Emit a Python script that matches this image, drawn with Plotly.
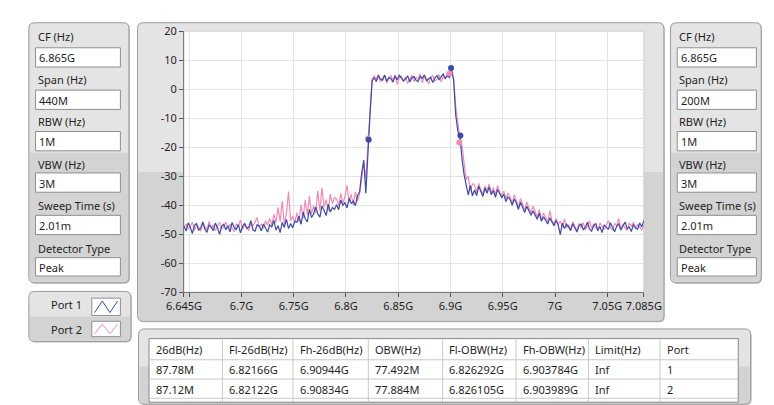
import plotly.graph_objects as go

W, H = 774, 405

# ---------------- data ----------------
freq_ghz = [round(6.645 + 0.002 * k, 3) for k in range(221)]  # analyzer bins across the 440M span

port1_dbm = [
    -47.2, -48.9, -46.1, -47.6, -49.8, -47.0, -46.4, -48.7, -47.9, -45.8, -48.3, -49.4, -46.9, -47.5, -48.8, -46.2,
    -47.7, -50.1, -47.3, -46.6, -48.5, -47.1, -49.2, -46.0, -47.8, -48.4, -46.7, -49.6, -47.4, -46.3, -48.0, -47.6,
    -45.4, -48.6, -49.0, -46.8, -47.3, -48.9, -46.5, -47.9, -49.3,
    -46.8, -47.5, -45.3, -48.6, -47.1, -49.5, -46.0, -47.7, -44.9, -48.1, -46.4, -47.8, -45.6,
    -45.9, -43.8, -46.6, -42.4, -44.7, -45.8, -41.5, -44.3,
    -43.1, -40.6, -42.9, -44.2, -40.3, -41.8, -43.6, -39.7, -42.4, -40.8, -41.5,
    -39.9, -41.6, -38.3, -40.1, -39.2, -41.0, -37.6, -39.5, -38.6, -40.2, -36.8,
    -35.5, -29.0, -24.5, -35.9, -19.5, -8.5, 2.8,
    3.9, 2.6, 4.7, 3.4, 3.1, 4.8, 2.7, 4.0, 3.6, 2.4, 4.5, 3.2, 4.9, 3.8, 2.8, 3.5, 4.6, 2.5, 3.9, 4.3,
    3.0, 2.6, 4.4, 3.7, 4.9, 2.9, 3.4, 4.1, 2.3, 3.8, 4.7, 3.3, 4.2, 5.2, 3.6, 4.6, 4.0, 7.0,
    3.0, -9.0, -14.5, -16.2, -24.0, -29.5, -33.0, -36.5, -33.2, -36.8,
    -34.8, -36.7, -33.5, -35.2, -37.0, -34.1, -35.9, -33.7, -36.4, -35.0, -37.3, -34.6, -35.8, -37.4,
    -36.3, -38.8, -37.2, -38.0, -40.1, -37.9, -39.3, -41.5, -39.0, -40.7, -42.6, -40.4, -41.9, -43.5, -42.0,
    -43.3, -44.9, -42.8, -45.6, -44.0, -45.1, -46.5, -44.4, -46.0, -47.1, -45.3, -46.8, -50.2, -46.2, -48.1, -46.6,
    -47.5, -48.8, -46.4, -47.9, -49.3, -47.0, -46.6, -48.5, -47.7, -45.9, -48.2, -49.0, -47.1, -46.3, -48.7, -47.4,
    -49.5, -46.8, -47.6, -48.4, -46.1, -47.8, -49.2, -47.3, -46.5, -48.6, -47.0, -45.8, -48.1, -47.6, -49.1, -46.7,
    -47.9, -48.3, -46.2, -47.5, -45.3,
]

port2_dbm = [
    -47.8, -46.5, -48.2, -47.3, -45.9, -48.7, -46.9, -47.6, -49.0, -46.2, -47.4, -48.5, -45.6, -47.9, -46.8, -48.9,
    -47.1, -46.0, -48.3, -47.5, -45.8, -48.0, -46.6, -47.7, -49.2, -46.4, -47.3, -45.1, -48.4, -46.9, -47.6, -48.8,
    -46.1, -47.2, -45.5, -44.3, -47.8, -46.5, -48.1, -45.4, -47.0,
    -44.6, -46.9, -43.2, -46.1, -40.8, -45.7, -38.6, -46.8, -42.9, -35.3, -45.4, -43.8, -46.0,
    -42.7, -45.9, -39.8, -44.6, -38.2, -43.5, -36.9, -43.0,
    -40.3, -42.8, -35.1, -41.9, -34.0, -40.6, -38.1, -42.1, -36.2, -39.5, -37.4,
    -37.9, -40.2, -36.0, -39.4, -37.0, -33.2, -38.9, -36.3, -40.0, -35.4, -38.7,
    -36.2, -31.5, -25.4, -30.8, -18.2, -6.5, 3.6,
    4.5, 3.2, 5.1, 2.4, 4.0, 4.8, 2.1, 3.7, 4.6, 2.9, 5.0, 1.6, 3.9, 4.4, 2.7, 4.2, 1.9, 3.5, 4.9, 2.6,
    4.1, 3.3, 5.2, 2.2, 4.5, 3.6, 1.8, 4.0, 4.7, 2.8, 3.4, 5.0, 2.5, 4.3, 3.8, 5.4, 4.6, 5.6,
    3.5, -6.0, -12.5, -17.0, -19.5, -24.8, -31.2, -30.0, -35.2, -32.6,
    -33.1, -35.6, -32.5, -34.8, -36.1, -33.4, -35.0, -32.7, -35.9, -33.9, -36.3, -33.2, -35.5, -36.6,
    -35.2, -37.9, -35.8, -37.2, -39.4, -36.4, -38.5, -40.6, -37.7, -39.9, -41.8, -39.0, -41.2, -42.7, -40.4,
    -42.2, -44.1, -41.6, -45.0, -42.7, -44.4, -45.8, -41.9, -45.3, -46.4, -44.6, -46.9, -45.5, -47.6, -44.8, -47.9,
    -46.8, -48.3, -45.7, -47.4, -48.9, -46.3, -47.8, -46.0, -48.6, -47.2, -45.5, -48.0, -46.6, -47.7, -49.0, -46.1,
    -47.5, -48.4, -46.9, -45.3, -47.9, -48.5, -46.4, -47.1, -44.6, -48.2, -46.7, -47.6, -48.8, -46.2, -47.3, -45.9,
    -48.1, -46.8, -47.5, -48.6, -46.9,
]

port1_marker_f = [6.82166, 6.9005, 6.90944]
port1_marker_db = [-17.5, 7.3, -16.0]
port2_marker_f = [6.82122, 6.8990, 6.90834]
port2_marker_db = [-17.0, 5.4, -18.4]

x_tickvals = [6.645, 6.65, 6.7, 6.75, 6.8, 6.85, 6.9, 6.95, 7.0, 7.05, 7.085]
x_ticktext = ["6.645G", "", "6.7G", "6.75G", "6.8G", "6.85G", "6.9G", "6.95G", "7G", "7.05G", "7.085G"]
y_tickvals = [20, 10, 0, -10, -20, -30, -40, -50, -60, -70]
y_ticktext = ["20", "10", "0", "-10", "-20", "-30", "-40", "-50", "-60", "-70"]

left_fields = [("CF (Hz)", "6.865G"), ("Span (Hz)", "440M"), ("RBW (Hz)", "1M"),
               ("VBW (Hz)", "3M"), ("Sweep Time (s)", "2.01m"), ("Detector Type", "Peak")]
right_fields = [("CF (Hz)", "6.865G"), ("Span (Hz)", "200M"), ("RBW (Hz)", "1M"),
                ("VBW (Hz)", "3M"), ("Sweep Time (s)", "2.01m"), ("Detector Type", "Peak")]

table_header = ["26dB(Hz)", "Fl-26dB(Hz)", "Fh-26dB(Hz)", "OBW(Hz)", "Fl-OBW(Hz)", "Fh-OBW(Hz)", "Limit(Hz)", "Port"]
table_rows = [
    ["87.78M", "6.82166G", "6.90944G", "77.492M", "6.826292G", "6.903784G", "Inf", "1"],
    ["87.12M", "6.82122G", "6.90834G", "77.884M", "6.826105G", "6.903989G", "Inf", "2"],
]

BLUE = "#3a4aa6"
PINK = "#f08bb6"
FONT = "Noto Sans"
FS = 11
TXT = "#1e1e1e"
LIGHT = "#e4e4e4"
DARK = "#d3d3d3"
EDGE = "#9a9a9a"

# ---------------- helpers (pixel -> paper) ----------------
def PX(x):
    return x / W


def PY(y):
    return 1 - y / H


def rpath(x0, y0, x1, y1, r=5, top=True, bottom=True):
    rt = r if top else 0
    rb = r if bottom else 0
    def p(x, y):
        return f"{PX(x):.5f},{PY(y):.5f}"
    s = f"M{p(x0 + rt, y0)} L{p(x1 - rt, y0)} "
    s += f"Q{p(x1, y0)} {p(x1, y0 + rt)} " if rt else ""
    s += f"L{p(x1, y1 - rb)} "
    s += f"Q{p(x1, y1)} {p(x1 - rb, y1)} " if rb else ""
    s += f"L{p(x0 + rb, y1)} "
    s += f"Q{p(x0, y1)} {p(x0, y1 - rb)} " if rb else ""
    s += f"L{p(x0, y0 + rt)} "
    s += f"Q{p(x0, y0)} {p(x0 + rt, y0)} " if rt else ""
    return s + "Z"


shapes = []
annotations = []


def add_path(path, fill="rgba(0,0,0,0)", line=None, width=1):
    shapes.append(dict(type="path", path=path, xref="paper", yref="paper", layer="below",
                       fillcolor=fill, line=dict(color=line or "rgba(0,0,0,0)", width=width if line else 0)))


def add_rect(x0, y0, x1, y1, fill, line=None, width=1, layer="below"):
    shapes.append(dict(type="rect", xref="paper", yref="paper", layer=layer,
                       x0=PX(x0), x1=PX(x1), y0=PY(y1), y1=PY(y0), fillcolor=fill,
                       line=dict(color=line or "rgba(0,0,0,0)", width=width if line else 0)))


def add_line(x0, y0, x1, y1, color, width=1, layer="below"):
    shapes.append(dict(type="line", xref="paper", yref="paper", layer=layer,
                       x0=PX(x0), x1=PX(x1), y0=PY(y0), y1=PY(y1), line=dict(color=color, width=width)))


def panel(x0, y0, x1, y1, split):
    add_path(rpath(x0 + 1, y0 + 1, x1 + 1, y1 + 1, 6), fill="#bdbdbd")  # soft shadow
    add_path(rpath(x0, y0, x1, y1, 6), fill=LIGHT)
    add_path(rpath(x0 + 1, split, x1 - 1, y1 - 1, 5, top=False), fill=DARK)
    add_path(rpath(x0, y0, x1, y1, 6), line=EDGE, width=1)


def text(x, y, s, size=FS, anchor="left"):
    annotations.append(dict(x=PX(x), y=PY(y), xref="paper", yref="paper", text=s, showarrow=False,
                            xanchor=anchor, yanchor="middle", font=dict(family=FONT, size=size, color=TXT)))


# ---------------- panels ----------------
def param_panel(x0, x1, fields, bx0, bx1):
    panel(x0, 7, x1, 277, 142)
    label_y = [21, 66, 110, 154, 197, 241]
    box_y = [(33, 53), (77, 97), (120, 140), (163, 183), (207, 227), (251, 270)]
    for (lab, val), ly, (by0, by1) in zip(fields, label_y, box_y):
        text(bx0, ly, lab)
        add_rect(bx0, by0, bx1, by1, "white", line="#8f8f8f")
        text(bx0 + 2, (by0 + by1) / 2 + 0.5, val)


param_panel(3, 108, left_fields, 10, 99)
param_panel(676, 771, right_fields, 683, 766)

# chart frame
panel(117, 7, 669, 317, 162)
PL, PR, PT, PB = 165.7, 648.0, 15.7, 286.7
add_rect(PL, PT, PR, PB, "white", line="#cfcfcf")

# legend panel
panel(3, 286, 110, 338, 312)
text(24, 300, "Port 1")
text(24, 326, "Port 2")
for (y0, y1), col in [((293, 311), BLUE), ((317, 333), PINK)]:
    add_rect(69, y0, 99, y1, "white", line="#8f8f8f")
    yb, yt = y1 - 3, y0 + 3
    pth = f"M{PX(72):.5f},{PY(yb):.5f} L{PX(80):.5f},{PY(yt):.5f} L{PX(88):.5f},{PY(yb):.5f} L{PX(96):.5f},{PY(yt):.5f}"
    shapes.append(dict(type="path", path=pth, xref="paper", yref="paper", layer="above",
                       line=dict(color=col, width=1)))

# table panel
panel(118, 325, 760, 403, 364)
col_x = [129, 206, 280, 359, 437, 514, 590, 665, 747]
row_y = [335, 357, 377, 397]
add_rect(129, 335, 747, 401, "white", line="#8a8a8a")
for yy in row_y[1:]:
    add_line(129, yy, 747, yy, "#c8c8c8")
for xx in col_x[1:-1]:
    add_line(xx, 335, xx, 401, "#c8c8c8")
for j, h in enumerate(table_header):
    text(col_x[j] + 5, 346.5, h)
for i, row in enumerate(table_rows):
    for j, v in enumerate(row):
        text(col_x[j] + 5, (row_y[i + 1] + row_y[i + 2]) / 2 + 0.5, v)

# ---------------- figure ----------------
fig = go.Figure()
fig.add_trace(go.Scatter(x=freq_ghz, y=port2_dbm, mode="lines", line=dict(color=PINK, width=1.2),
                         name="Port 2", showlegend=False))
fig.add_trace(go.Scatter(x=freq_ghz, y=port1_dbm, mode="lines", line=dict(color=BLUE, width=1.2),
                         name="Port 1", showlegend=False))
fig.add_trace(go.Scatter(x=port2_marker_f, y=port2_marker_db, mode="markers",
                         marker=dict(color=PINK, size=6), showlegend=False))
fig.add_trace(go.Scatter(x=port1_marker_f, y=port1_marker_db, mode="markers",
                         marker=dict(color=BLUE, size=6), showlegend=False))

axis_common = dict(showgrid=True, gridcolor="#e3e3e3", gridwidth=1, zeroline=False,
                   ticks="outside", ticklen=4, tickcolor="#555555", showline=True, linecolor="#7a7a7a",
                   tickfont=dict(family=FONT, size=FS, color=TXT), tickangle=0)

fig.update_layout(
    width=W, height=H, margin=dict(l=0, r=0, t=0, b=0),
    paper_bgcolor="white", plot_bgcolor="white",
    shapes=shapes, annotations=annotations, showlegend=False,
    font=dict(family=FONT, size=FS, color=TXT),
    xaxis=dict(domain=[PX(PL), PX(PR)], range=[6.645, 7.085], tickvals=x_tickvals, ticktext=x_ticktext,
               **axis_common),
    yaxis=dict(domain=[PY(PB), PY(PT)], range=[-70, 20], tickvals=y_tickvals, ticktext=y_ticktext,
               **axis_common),
)

fig.write_html("out.html")
